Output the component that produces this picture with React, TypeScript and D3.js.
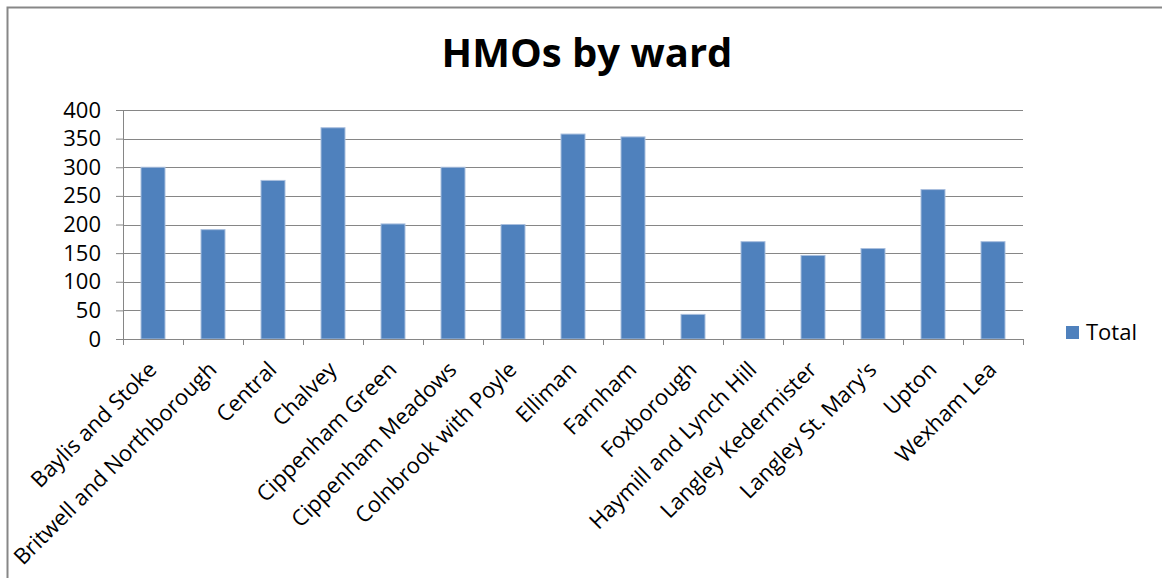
import React, { useEffect, useRef } from 'react';
import * as d3 from 'd3';

const wards = [
  'Baylis and Stoke',
  'Britwell and Northborough',
  'Central',
  'Chalvey',
  'Cippenham Green',
  'Cippenham Meadows',
  'Colnbrook with Poyle',
  'Elliman',
  'Farnham',
  'Foxborough',
  'Haymill and Lynch Hill',
  'Langley Kedermister',
  "Langley St. Mary's",
  'Upton',
  'Wexham Lea',
];
const totals = [300, 191, 277, 369, 201, 300, 200, 358, 353, 43, 170, 146, 158, 261, 170];
const yTicks = [0, 50, 100, 150, 200, 250, 300, 350, 400];
const seriesName = 'Total';
const chartTitle = 'HMOs by ward';

const FONT = "'Open Sans', sans-serif";

const App = () => {
  const svgRef = useRef<SVGSVGElement>(null);
  const totalWidth = 1162;
  const totalHeight = 578;
  const plot = { left: 123, right: 1023, top: 110, bottom: 339 };

  useEffect(() => {
    d3.select(svgRef.current).selectAll('*').remove();
    const svg = d3.select(svgRef.current)
      .attr('width', totalWidth)
      .attr('height', totalHeight);

    svg.append('rect')
      .attr('width', totalWidth)
      .attr('height', totalHeight)
      .attr('fill', 'white');

    // chart frame (only left + top visible in the crop)
    svg.append('path')
      .attr('d', `M7.5,${totalHeight + 2} L7.5,7.5 L${totalWidth + 2},7.5`)
      .attr('fill', 'none')
      .attr('stroke', '#878787')
      .attr('stroke-width', 2);

    svg.append('text')
      .attr('x', 587)
      .attr('y', 67)
      .attr('text-anchor', 'middle')
      .style('font-family', FONT)
      .style('font-weight', 700)
      .style('font-size', '40px')
      .attr('fill', '#000')
      .text(chartTitle);

    const x = d3.scaleBand()
      .domain(wards)
      .range([plot.left, plot.right])
      .paddingInner(0.6)
      .paddingOuter(0.3);

    const y = d3.scaleLinear()
      .domain([0, 400])
      .range([plot.bottom, plot.top]);

    // gridlines + y axis
    const yAxis = svg.append('g')
      .attr('transform', `translate(${plot.left},0)`)
      .call(d3.axisLeft(y).tickValues(yTicks).tickSize(7).tickPadding(15).tickFormat(d3.format('d')));
    yAxis.select('.domain').attr('stroke', '#868686');
    yAxis.selectAll('.tick line').attr('stroke', '#868686');
    yAxis.selectAll('.tick text')
      .style('font-family', FONT)
      .style('font-size', '22px')
      .attr('fill', '#000');

    svg.append('g')
      .selectAll('line')
      .data(yTicks.filter(d => d > 0))
      .enter().append('line')
        .attr('x1', plot.left)
        .attr('x2', plot.right)
        .attr('y1', d => Math.round(y(d)) + 0.5)
        .attr('y2', d => Math.round(y(d)) + 0.5)
        .attr('stroke', '#868686');

    // bars
    svg.append('g')
      .selectAll('rect')
      .data(totals)
      .enter().append('rect')
        .attr('x', (d, i) => x(wards[i]) as number)
        .attr('y', d => y(d))
        .attr('width', x.bandwidth())
        .attr('height', d => y(0) - y(d))
        .attr('fill', '#4F81BD')
        .attr('stroke', '#a9bfde')
        .attr('stroke-width', 1);

    // x axis with boundary ticks
    const step = x.step();
    const bounds = d3.range(wards.length + 1).map(i => plot.left + i * step);
    const xAxis = svg.append('g');
    xAxis.append('line')
      .attr('x1', plot.left)
      .attr('x2', plot.right)
      .attr('y1', plot.bottom + 0.5)
      .attr('y2', plot.bottom + 0.5)
      .attr('stroke', '#868686');
    xAxis.selectAll('line.tk')
      .data(bounds)
      .enter().append('line')
        .attr('class', 'tk')
        .attr('x1', d => Math.round(d) + 0.5)
        .attr('x2', d => Math.round(d) + 0.5)
        .attr('y1', plot.bottom)
        .attr('y2', plot.bottom + 6)
        .attr('stroke', '#868686');
    xAxis.selectAll('text')
      .data(wards)
      .enter().append('text')
        .attr('transform', d => `translate(${(x(d) as number) + x.bandwidth() / 2 + 5},${plot.bottom + 32}) rotate(-45)`)
        .attr('text-anchor', 'end')
        .style('font-family', FONT)
        .style('font-size', '22px')
        .attr('fill', '#000')
        .text(d => d);

    // legend
    const legend = svg.append('g');
    legend.append('rect')
      .attr('x', 1066)
      .attr('y', 326)
      .attr('width', 13)
      .attr('height', 13)
      .attr('fill', '#4F81BD');
    legend.append('text')
      .attr('x', 1086)
      .attr('y', 340)
      .style('font-family', FONT)
      .style('font-size', '22px')
      .attr('fill', '#000')
      .text(seriesName);
  }, []);

  return (
    <div style={{ position: 'fixed', left: 0, top: 0 }}>
      <svg ref={svgRef} width={totalWidth} height={totalHeight} style={{ display: 'block' }} />
    </div>
  );
};

export default App;
